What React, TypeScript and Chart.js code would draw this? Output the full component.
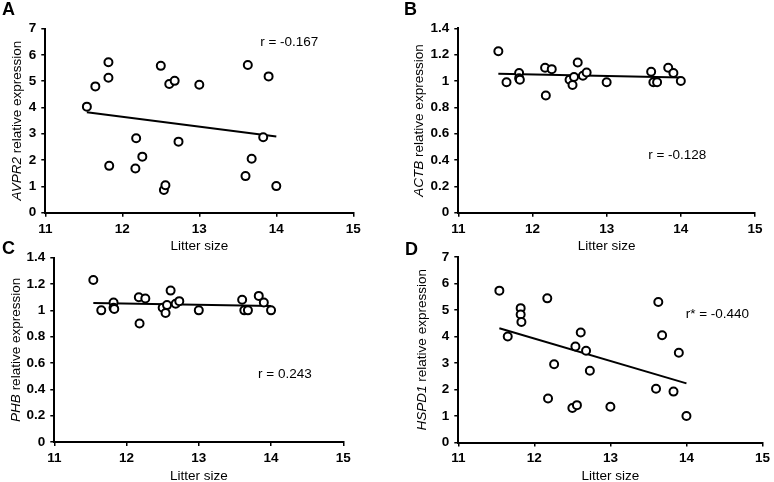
import React, { useEffect, useRef } from "react";
import { Chart, registerables } from "chart.js";

Chart.register(...registerables);

// ---- data ----
const litterSize = [11.54, 11.65, 11.82, 11.82, 11.83, 12.17, 12.18, 12.26, 12.5, 12.54, 12.56, 12.61, 12.68, 12.73, 13.0, 13.6, 13.63, 13.68, 13.83, 13.9, 14.0];
const avpr2 = [4.03, 4.8, 5.72, 5.13, 1.78, 1.68, 2.83, 2.13, 5.58, 0.86, 1.04, 4.89, 5.01, 2.7, 4.86, 1.39, 5.61, 2.05, 2.87, 5.18, 1.01];
const actb = [1.226, 0.99, 1.06, 1.02, 1.01, 1.1, 0.89, 1.09, 1.01, 0.97, 1.03, 1.14, 1.04, 1.065, 0.99, 1.07, 0.99, 0.99, 1.1, 1.06, 1.0];
const phb = [1.23, 1.0, 1.06, 1.02, 1.01, 1.1, 0.9, 1.09, 1.02, 0.98, 1.04, 1.15, 1.05, 1.07, 1.0, 1.08, 1.0, 1.0, 1.11, 1.06, 1.0];
const hspd1 = [5.73, 4.0, 5.07, 4.83, 4.55, 5.44, 1.66, 2.95, 1.3, 3.62, 1.41, 4.15, 3.46, 2.71, 1.35, 2.03, 5.3, 4.05, 1.92, 3.39, 1.0];

const trendX = [11.54, 14.0];
const avpr2Trend = [3.82, 2.9];
const actbTrend = [1.055, 1.027];
const phbTrend = [1.056, 1.034];
const hspd1Trend = [4.31, 2.23];

const xTicks = [11, 12, 13, 14, 15];
const yTicks7 = [0, 1, 2, 3, 4, 5, 6, 7];
const yTicks14 = [0, 0.2, 0.4, 0.6, 0.8, 1, 1.2, 1.4];

const panelLetters = ["A", "B", "C", "D"];
const geneNames = ["AVPR2", "ACTB", "PHB", "HSPD1"];
const rLabels = ["r = -0.167", "r = -0.128", "r = 0.243", "r* = -0.440"];
const xTitle = "Litter size";

const W = 774;
const H = 482;
const FONT = "'Liberation Sans', Arial, sans-serif";

type Panel = {
  values: number[];
  trend: number[];
  yTicks: number[];
  area: { left: number; right: number; top: number; bottom: number };
  letter: string;
  letterPos: [number, number];
  gene: string;
  yTitleX: number;
  rText: string;
  rPos: [number, number];
};

const panels: Panel[] = [
  {
    values: avpr2, trend: avpr2Trend, yTicks: yTicks7,
    area: { left: 45.3, right: 353.3, top: 28.5, bottom: 212.7 },
    letter: panelLetters[0], letterPos: [2, 15], gene: geneNames[0], yTitleX: 17.5,
    rText: rLabels[0], rPos: [13.79, 6.49],
  },
  {
    values: actb, trend: actbTrend, yTicks: yTicks14,
    area: { left: 458.3, right: 755, top: 28.3, bottom: 212.7 },
    letter: panelLetters[1], letterPos: [404, 15], gene: geneNames[1], yTitleX: 419,
    rText: rLabels[1], rPos: [13.56, 0.438],
  },
  {
    values: phb, trend: phbTrend, yTicks: yTicks14,
    area: { left: 54.3, right: 343.3, top: 257.7, bottom: 442 },
    letter: panelLetters[2], letterPos: [2, 254], gene: geneNames[2], yTitleX: 16,
    rText: rLabels[2], rPos: [13.82, 0.517],
  },
  {
    values: hspd1, trend: hspd1Trend, yTicks: yTicks7,
    area: { left: 458.3, right: 766, top: 257, bottom: 442.5 },
    letter: panelLetters[3], letterPos: [405, 255], gene: geneNames[3], yTitleX: 422,
    rText: rLabels[3], rPos: [13.99, 4.84],
  },
];

function makeChart(canvas: HTMLCanvasElement, p: Panel) {
  const decorate = {
    id: "decorate",
    afterDraw(chart: any) {
      const ctx = chart.ctx as CanvasRenderingContext2D;
      const ca = chart.chartArea;
      const xs = chart.scales.x;
      const ys = chart.scales.y;
      ctx.save();
      ctx.fillStyle = "#000";
      // panel letter
      ctx.font = `bold 18px ${FONT}`;
      ctx.textAlign = "left";
      ctx.textBaseline = "alphabetic";
      ctx.fillText(p.letter, p.letterPos[0], p.letterPos[1]);
      // x title
      ctx.font = `13.5px ${FONT}`;
      ctx.textAlign = "center";
      ctx.textBaseline = "middle";
      ctx.fillText(xTitle, (ca.left + ca.right) / 2, ca.bottom + 34);
      // r label
      ctx.textAlign = "left";
      ctx.fillText(p.rText, xs.getPixelForValue(p.rPos[0]), ys.getPixelForValue(p.rPos[1]));
      // y title with italic gene name
      const rest = " relative expression";
      ctx.font = `italic 13.5px ${FONT}`;
      const w1 = ctx.measureText(p.gene).width;
      ctx.font = `13.5px ${FONT}`;
      const w2 = ctx.measureText(rest).width;
      ctx.translate(p.yTitleX, (ca.top + ca.bottom) / 2);
      ctx.rotate(-Math.PI / 2);
      ctx.textAlign = "left";
      ctx.textBaseline = "middle";
      const start = -(w1 + w2) / 2;
      ctx.font = `italic 13.5px ${FONT}`;
      ctx.fillText(p.gene, start, 0);
      ctx.font = `13.5px ${FONT}`;
      ctx.fillText(rest, start + w1, 0);
      ctx.restore();
    },
  };

  const a = p.area;
  const yMax = p.yTicks[p.yTicks.length - 1];
  return new Chart(canvas, {
    type: "scatter",
    data: {
      datasets: [
        {
          type: "scatter",
          data: litterSize.map((x, i) => ({ x, y: p.values[i] })),
          pointRadius: 4,
          pointBorderWidth: 2,
          borderColor: "#000",
          backgroundColor: "#fff",
          pointBackgroundColor: "#fff",
          pointBorderColor: "#000",
          order: 0,
        },
        {
          type: "line",
          data: trendX.map((x, i) => ({ x, y: p.trend[i] })),
          borderColor: "#000",
          borderWidth: 2,
          pointRadius: 0,
          showLine: true,
          fill: false,
          order: 1,
        } as any,
      ],
    },
    options: {
      responsive: false,
      animation: false,
      events: [],
      layout: { padding: { left: 0, bottom: 0, top: a.top, right: W - a.right } },
      plugins: { legend: { display: false }, tooltip: { enabled: false } },
      scales: {
        x: {
          type: "linear",
          min: xTicks[0],
          max: xTicks[xTicks.length - 1],
          afterFit: (s: any) => { s.height = H - a.bottom; },
          afterBuildTicks: (s: any) => { s.ticks = xTicks.map((v) => ({ value: v })); },
          grid: { drawOnChartArea: false, drawTicks: true, tickLength: 4, color: "#000", lineWidth: 1.5 },
          border: { display: true, color: "#000", width: 2 },
          ticks: {
            color: "#000",
            padding: 4,
            font: { family: FONT, size: 13.5, weight: "bold" },
            callback: (v: any) => String(v),
          },
        },
        y: {
          type: "linear",
          min: 0,
          max: yMax,
          afterFit: (s: any) => { s.width = a.left; },
          afterBuildTicks: (s: any) => { s.ticks = p.yTicks.map((v) => ({ value: v })); },
          grid: { drawOnChartArea: false, drawTicks: true, tickLength: 4, color: "#000", lineWidth: 1.5 },
          border: { display: true, color: "#000", width: 2 },
          ticks: {
            color: "#000",
            padding: 5,
            font: { family: FONT, size: 13.5, weight: "bold" },
            callback: (v: any) => String(Math.round(v * 10) / 10),
          },
        },
      },
    } as any,
    plugins: [decorate],
  });
}

export default function App() {
  const refs = [useRef<HTMLCanvasElement>(null), useRef<HTMLCanvasElement>(null), useRef<HTMLCanvasElement>(null), useRef<HTMLCanvasElement>(null)];
  useEffect(() => {
    const charts = panels.map((p, i) => makeChart(refs[i].current as HTMLCanvasElement, p));
    return () => charts.forEach((c) => c.destroy());
  }, []);
  return (
    <div style={{ position: "absolute", left: 0, top: 0, width: W, height: H, background: "#fff" }}>
      {refs.map((r, i) => (
        <canvas
          key={i}
          ref={r}
          width={W}
          height={H}
          style={{ position: "absolute", left: 0, top: 0, width: W, height: H }}
        />
      ))}
    </div>
  );
}
